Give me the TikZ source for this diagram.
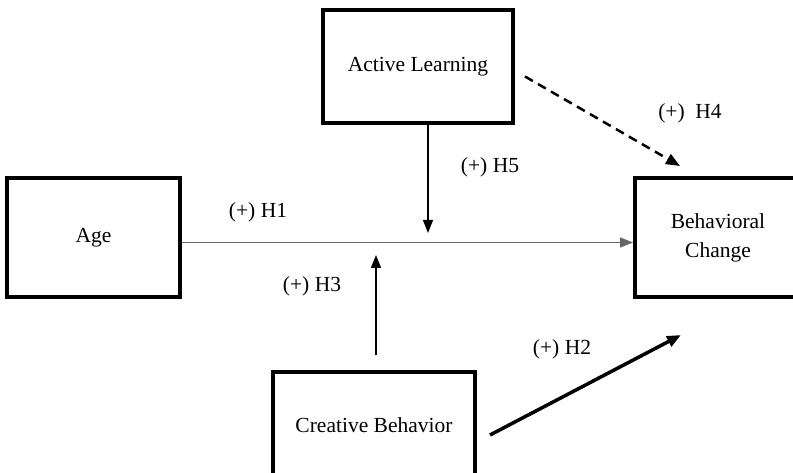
\documentclass[tikz,border=0pt]{standalone}
\usepackage{fontspec}
\setmainfont{Liberation Serif}
\usepackage{tikz}
\usetikzlibrary{arrows.meta, calc}

\begin{document}
\begin{tikzpicture}[
    x=1pt, y=-1pt,
    box/.style={draw, line width=4pt, rectangle, align=center,
                font=\fontsize{21.5}{29}\selectfont},
    lbl/.style={font=\fontsize{21.5}{25}\selectfont, inner sep=0pt},
    arr/.style={-{Triangle[length=13pt, width=10pt]}, line width=1.3pt},
    grayarr/.style={-{Triangle[length=13pt, width=10pt]}, line width=1.5pt, black!60},
    dasharr/.style={-{Triangle[length=14pt, width=11pt]}, line width=2.5pt, dash pattern=on 9pt off 6pt},
    thickarr/.style={-{Triangle[length=14pt, width=11pt]}, line width=3.5pt},
]
\useasboundingbox (0,0) rectangle (793,473);
\clip (0,0) rectangle (793,473);

\node[box, minimum width=190pt, minimum height=113pt] (al) at (418,66.5) {Active Learning};
\node[box, minimum width=173pt, minimum height=119pt] (age) at (93.5,237.5) {Age};
\node[box, minimum width=166pt, minimum height=119pt] (bc) at (718,237.5) {Behavioral\\Change};
\node[box, minimum width=202pt, minimum height=106pt] (cb) at (374,425) {Creative Behavior};

\coordinate (m5) at (428,233);
\coordinate (m3) at (376,255);

\draw[grayarr] ([yshift=-5pt]age.east) -- ([yshift=-5pt]bc.west);
\draw[arr] (al.south -| m5) -- (m5);
\draw[arr, shorten <=15pt] (cb.north -| m3) -- (m3);
\draw[dasharr] ($(al.east)+(10,10)$) -- ($(bc.north west)+(47,-10)$);
\draw[thickarr] ($(cb.east)+(13,10)$) -- ($(bc.south west)+(48,36)$);

\node[lbl] (h1) at (258,212) {(+) H1};
\node[lbl] (h5) at (490,167) {(+) H5};
\node[lbl] (h4) at (690,113) {(+)\enspace H4};
\node[lbl] (h3) at (312,286) {(+) H3};
\node[lbl] (h2) at (562,349) {(+) H2};
\end{tikzpicture}
\end{document}
